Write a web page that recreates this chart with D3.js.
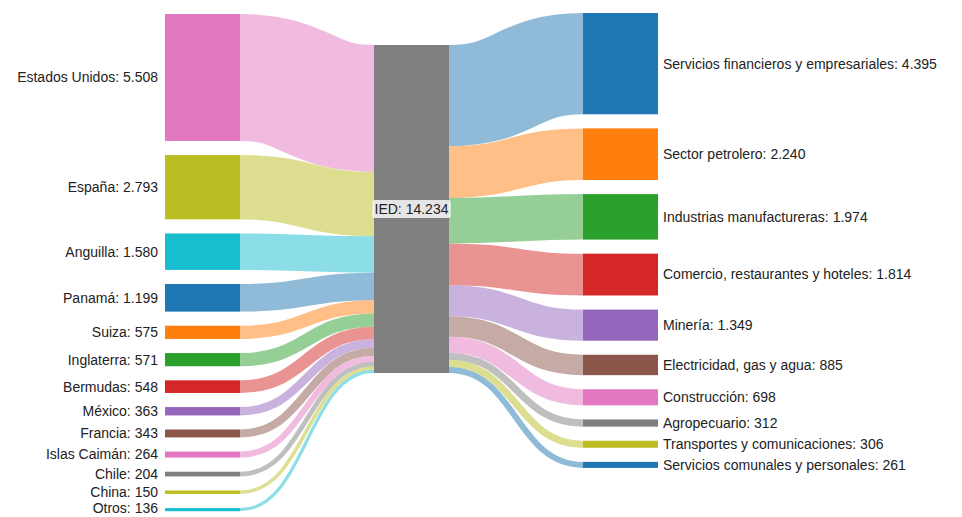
<!DOCTYPE html>
<html>
<head>
<meta charset="utf-8">
<script src="https://cdn.jsdelivr.net/npm/d3@7"></script>
<style>
  body { margin: 0; background: #fff; }
  text { font-family: "Liberation Sans", Arial, sans-serif; font-size: 14px; fill: #222; }
</style>
</head>
<body>
<div id="chart"></div>
<script>
// Origin countries (left column) and their investment
const countries = ["Estados Unidos", "España", "Anguilla", "Panamá", "Suiza", "Inglaterra",
    "Bermudas", "México", "Francia", "Islas Caimán", "Chile", "China", "Otros"];
const countryValues = [5508, 2793, 1580, 1199, 575, 571, 548, 363, 343, 264, 204, 150, 136];

// Destination sectors (right column)
const sectors = ["Servicios financieros y empresariales", "Sector petrolero", "Industrias manufactureras",
    "Comercio, restaurantes y hoteles", "Minería", "Electricidad, gas y agua", "Construcción",
    "Agropecuario", "Transportes y comunicaciones", "Servicios comunales y personales"];
const sectorValues = [4395, 2240, 1974, 1814, 1349, 885, 698, 312, 306, 261];

const centerName = "IED";

// colours (category10 indices)
const pal = d3.schemeCategory10;
const countryColorIdx = [6, 8, 9, 0, 1, 2, 3, 4, 5, 6, 7, 8, 9];
const sectorColorIdx = [0, 1, 2, 3, 4, 5, 6, 7, 8, 0];
const centerColor = pal[7];

const width = 962, height = 517;
const nodeWidth = 75;
const padding = 14.1;
const colX = [165, 374, 583];

const fmt = d3.formatLocale({decimal: ",", thousands: ".", grouping: [3], currency: ["", ""]}).format(",d");

const total = d3.sum(countryValues);
const h = d3.scaleLinear().domain([0, total]).range([0, 328]);

function stack(values, start) {
    let y = start;
    return values.map(v => {
        const n = {value: v, y0: y, y1: y + h(v)};
        y = n.y1 + padding;
        return n;
    });
}

const leftNodes = stack(countryValues, 14);
const rightNodes = stack(sectorValues, 13);
const center = {value: total, y0: 45, y1: 45 + h(total)};

const svg = d3.select("#chart").append("svg")
    .attr("width", width)
    .attr("height", height);

const link = d3.linkHorizontal();

// links: countries -> IED
let cy = center.y0;
const leftLinks = leftNodes.map((n, i) => {
    const w = h(n.value);
    const l = {width: w, color: pal[countryColorIdx[i]],
        source: [colX[0] + nodeWidth, n.y0 + w / 2], target: [colX[1], cy + w / 2]};
    cy += w;
    return l;
});
// links: IED -> sectors
cy = center.y0;
const rightLinks = rightNodes.map((n, i) => {
    const w = h(n.value);
    const l = {width: w, color: pal[sectorColorIdx[i]],
        source: [colX[1] + nodeWidth, cy + w / 2], target: [colX[2], n.y0 + w / 2]};
    cy += w;
    return l;
});

svg.append("g")
    .attr("fill", "none")
    .selectAll("path")
    .data(leftLinks.concat(rightLinks))
    .join("path")
    .attr("d", d => link(d))
    .attr("stroke", d => d.color)
    .attr("stroke-opacity", 0.5)
    .attr("stroke-width", d => Math.max(1, d.width));

// nodes
svg.append("g").selectAll("rect")
    .data(leftNodes)
    .join("rect")
    .attr("x", colX[0])
    .attr("y", d => d.y0)
    .attr("width", nodeWidth)
    .attr("height", d => Math.max(1, d.y1 - d.y0))
    .attr("fill", (d, i) => pal[countryColorIdx[i]]);

svg.append("g").selectAll("rect")
    .data(rightNodes)
    .join("rect")
    .attr("x", colX[2])
    .attr("y", d => d.y0)
    .attr("width", nodeWidth)
    .attr("height", d => Math.max(1, d.y1 - d.y0))
    .attr("fill", (d, i) => pal[sectorColorIdx[i]]);

svg.append("rect")
    .attr("x", colX[1])
    .attr("y", center.y0)
    .attr("width", nodeWidth)
    .attr("height", center.y1 - center.y0)
    .attr("fill", centerColor);

// labels (keep the last one inside the picture)
svg.append("g").selectAll("text")
    .data(leftNodes)
    .join("text")
    .attr("x", colX[0] - 7)
    .attr("y", d => Math.min((d.y0 + d.y1) / 2, height - 9))
    .attr("dy", "0.35em")
    .attr("text-anchor", "end")
    .text((d, i) => `${countries[i]}: ${fmt(d.value)}`);

svg.append("g").selectAll("text")
    .data(rightNodes)
    .join("text")
    .attr("x", colX[2] + nodeWidth + 5)
    .attr("y", d => (d.y0 + d.y1) / 2)
    .attr("dy", "0.35em")
    .text((d, i) => `${sectors[i]}: ${fmt(d.value)}`);

// center label with light box
const cx = colX[1] + nodeWidth / 2;
const cmid = (center.y0 + center.y1) / 2;
const cLabel = svg.append("g");
const cText = cLabel.append("text")
    .attr("x", cx)
    .attr("y", cmid)
    .attr("dy", "0.35em")
    .attr("text-anchor", "middle")
    .text(`${centerName}: ${fmt(center.value)}`);
const bb = cText.node().getBBox();
cLabel.insert("rect", "text")
    .attr("x", bb.x - 2)
    .attr("y", bb.y - 1)
    .attr("width", bb.width + 4)
    .attr("height", bb.height + 2)
    .attr("rx", 2)
    .attr("fill", "#fff")
    .attr("fill-opacity", 0.8);
</script>
</body>
</html>
